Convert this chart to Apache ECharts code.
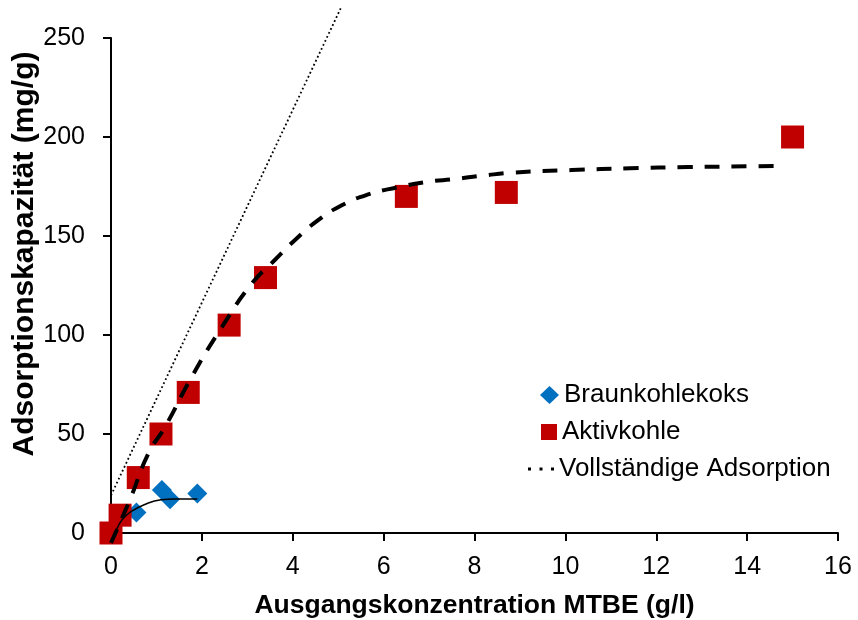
<!DOCTYPE html>
<html>
<head>
<meta charset="utf-8">
<script src="https://cdn.jsdelivr.net/npm/echarts@6/dist/echarts.min.js"></script>
<style>
  html, body { margin: 0; padding: 0; background: #ffffff; }
  #chart { width: 858px; height: 620px; }
</style>
</head>
<body>
<div id="chart"></div>
<script>
// Measured MTBE uptake: initial concentration (g/l) vs. adsorption capacity (mg/g)
const braunkohleX = [0.56, 1.12, 1.3, 1.9];
const braunkohleY = [10.3, 21.7, 17, 20];

const aktivkohleX = [0, 0.2, 0.6, 1.1, 1.7, 2.6, 3.4, 6.5, 8.7, 15];
const aktivkohleY = [0, 9, 28, 50, 71, 105, 129, 170, 172, 200];

// Fitted isotherm through the Braunkohlekoks points
const braunFitX = [0.09, 0.16, 0.27, 0.44, 0.73, 1.1, 1.4, 1.9];
const braunFitY = [0, 3.5, 7.4, 10.8, 14.3, 16.8, 17.2, 17.2];

// Fitted isotherm through the Aktivkohle points
const aktivFitX = [0, 0.42, 0.82, 1.2, 1.78, 2.44, 3.1, 3.61, 4.05, 4.53, 5.08, 5.66, 6.29, 6.95, 7.57, 8.19, 8.85, 10.14, 11.42, 12.7, 14, 14.8];
const aktivFitY = [-5, 17, 40, 54, 79, 104, 126, 138, 148, 157.5, 165.5, 171, 174.5, 177.3, 178.8, 180.5, 182, 183.3, 184.2, 184.8, 185.2, 185.4];

// Reference line for complete adsorption
const vollX = [0, 5.055];
const vollY = [19, 265];

const xTicks = { min: 0, max: 16, interval: 2 };
const yTicks = { min: 0, max: 250, interval: 50 };

const zip = (xs, ys) => xs.map((x, i) => [x, ys[i]]);

const FONT = '"Liberation Sans", Arial, sans-serif';

const chart = echarts.init(document.getElementById('chart'), null, { renderer: 'canvas' });

const axisCommon = {
  type: 'value',
  splitLine: { show: false },
  nameMoveOverlap: false,
  axisLine: { show: true, onZero: false, lineStyle: { color: '#000', width: 2 } },
  axisTick: { show: true, inside: false, length: 8, lineStyle: { color: '#000', width: 2 } }
};

const legendText = { fontFamily: FONT, fontSize: 26, color: '#000' };

chart.setOption({
  animation: false,
  backgroundColor: '#ffffff',
  grid: { left: 111, right: 20, top: 38, bottom: 87, containLabel: false, outerBoundsMode: 'none' },
  xAxis: Object.assign({}, axisCommon, {
    min: xTicks.min, max: xTicks.max, interval: xTicks.interval,
    name: 'Ausgangskonzentration MTBE (g/l)',
    nameLocation: 'middle',
    nameGap: 59,
    nameTextStyle: { fontFamily: FONT, fontWeight: 'bold', fontSize: 26.5, color: '#000' },
    axisLabel: { fontFamily: FONT, fontSize: 25, color: '#000', margin: 22 }
  }),
  yAxis: Object.assign({}, axisCommon, {
    min: yTicks.min, max: yTicks.max, interval: yTicks.interval,
    name: 'Adsorptionskapazität (mg/g)',
    nameLocation: 'middle',
    nameGap: 71,
    nameTextStyle: { fontFamily: FONT, fontWeight: 'bold', fontSize: 30, color: '#000', padding: [0, 0, 0, 63] },
    axisLabel: { fontFamily: FONT, fontSize: 25, color: '#000', margin: 26 }
  }),
  legend: [
    {
      data: ['Braunkohlekoks'], orient: 'vertical', left: 540, top: 382, padding: 0,
      itemWidth: 19, itemHeight: 18, icon: 'diamond',
      textStyle: legendText
    },
    {
      data: ['Aktivkohle'], orient: 'vertical', left: 541, top: 419, padding: 0,
      itemWidth: 16, itemHeight: 16, icon: 'rect',
      textStyle: legendText
    },
    {
      data: ['Vollständige Adsorption'], orient: 'vertical', left: 528, top: 456, padding: 0,
      itemWidth: 26, itemHeight: 3,
      icon: 'path://M0,0h3v3h-3zM11.5,0h3v3h-3zM23,0h3v3h-3z',
      textStyle: legendText
    }
  ],
  series: [
    {
      name: 'Braunkohlekoks',
      type: 'scatter',
      symbol: 'diamond',
      symbolSize: 20,
      itemStyle: { color: '#0070C0', opacity: 1 },
      data: zip(braunkohleX, braunkohleY),
      z: 2
    },
    {
      name: 'Aktivkohle',
      type: 'scatter',
      symbol: 'rect',
      symbolSize: 23,
      itemStyle: { color: '#C00000', opacity: 1 },
      data: zip(aktivkohleX, aktivkohleY),
      z: 3
    },
    {
      name: 'Fit Braunkohlekoks',
      type: 'line',
      smooth: true,
      symbol: 'none',
      clip: false,
      itemStyle: { color: '#000' },
      lineStyle: { color: '#000', width: 1.5 },
      data: zip(braunFitX, braunFitY),
      z: 4
    },
    {
      name: 'Fit Aktivkohle',
      type: 'line',
      smooth: true,
      symbol: 'none',
      clip: false,
      itemStyle: { color: '#000' },
      lineStyle: { color: '#000', width: 4, type: [15, 12], cap: 'butt' },
      data: zip(aktivFitX, aktivFitY),
      z: 4
    },
    {
      name: 'Vollständige Adsorption',
      type: 'line',
      symbol: 'none',
      clip: false,
      itemStyle: { color: '#000' },
      lineStyle: { color: '#000', width: 1.8, type: [1.8, 2.6], cap: 'butt' },
      data: zip(vollX, vollY),
      z: 4
    }
  ]
});
</script>
</body>
</html>
